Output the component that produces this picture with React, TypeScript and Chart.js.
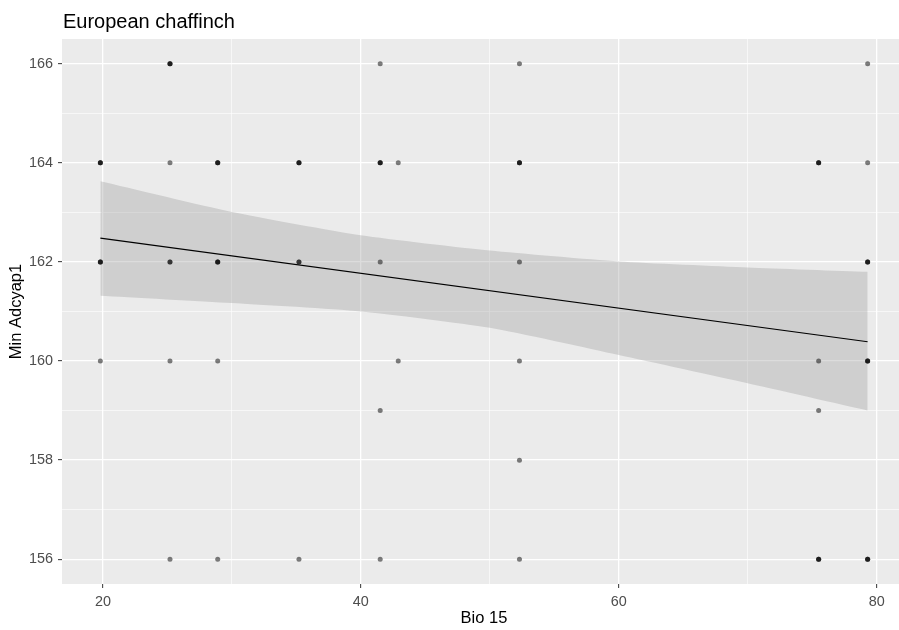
import React, { useEffect, useRef } from "react";
import { Chart, registerables } from "chart.js";

Chart.register(...registerables);

// ---- data ----
const chartTitle = "European chaffinch";
const xTitle = "Bio 15";
const yTitle = "Min Adcyap1";

// observations (repeated entries = overlapping points, which render darker)
const pointX = [
  19.8, 19.8, 19.8, 19.8, 19.8, 19.8, 19.8,
  25.2, 25.2, 25.2, 25.2, 25.2, 25.2, 25.2, 25.2,
  28.9, 28.9, 28.9, 28.9, 28.9, 28.9, 28.9, 28.9,
  35.2, 35.2, 35.2, 35.2, 35.2, 35.2,
  41.5, 41.5, 41.5, 41.5, 41.5, 41.5, 41.5,
  42.9, 42.9,
  52.3, 52.3, 52.3, 52.3, 52.3, 52.3, 52.3, 52.3,
  75.5, 75.5, 75.5, 75.5, 75.5, 75.5, 75.5, 75.5,
  79.3, 79.3, 79.3, 79.3, 79.3, 79.3, 79.3, 79.3, 79.3, 79.3, 79.3,
];
const pointY = [
  164, 164, 164, 162, 162, 162, 160,
  166, 166, 166, 164, 162, 162, 160, 156,
  164, 164, 164, 162, 162, 162, 160, 156,
  164, 164, 164, 162, 162, 156,
  166, 164, 164, 164, 162, 159, 156,
  164, 160,
  166, 164, 164, 164, 162, 160, 158, 156,
  164, 164, 164, 160, 159, 156, 156, 156,
  166, 164, 162, 162, 162, 160, 160, 160, 156, 156, 156,
];

// linear fit and its confidence band
const fitX = [19.8, 79.3];
const fitY = [162.48, 160.39];
const bandX = [19.8, 30, 40, 50, 60, 70, 79.3];
const bandUpper = [163.63, 163.01, 162.54, 162.23, 162.01, 161.89, 161.8];
const bandLower = [161.32, 161.17, 161.0, 160.67, 160.12, 159.55, 159.0];

// axes
const xMin = 16.825;
const xMax = 82.275;
const yMin = 155.5;
const yMax = 166.5;
const xTicks = [20, 30, 40, 50, 60, 70, 80];
const xMajor = [20, 40, 60, 80];
const yTicks = [156, 157, 158, 159, 160, 161, 162, 163, 164, 165, 166];
const yMajor = [156, 158, 160, 162, 164, 166];

const FONT = '"Liberation Sans", Arial, sans-serif';

export default function App() {
  const ref = useRef<HTMLCanvasElement | null>(null);

  useEffect(() => {
    if (!ref.current) return;

    const bgPlugin = {
      id: "panelBg",
      beforeDraw(chart: any) {
        const { ctx, chartArea } = chart;
        ctx.save();
        ctx.fillStyle = "#FFFFFF";
        ctx.fillRect(0, 0, chart.width, chart.height);
        ctx.fillStyle = "#EBEBEB";
        ctx.fillRect(chartArea.left, chartArea.top, chartArea.right - chartArea.left, chartArea.bottom - chartArea.top);
        ctx.restore();
      },
      afterDraw(chart: any) {
        const { ctx } = chart;
        ctx.save();
        ctx.fillStyle = "#000000";
        ctx.font = `20px ${FONT}`;
        ctx.textBaseline = "alphabetic";
        ctx.textAlign = "left";
        ctx.fillText(chartTitle, 63, 28);
        ctx.restore();
      },
    };

    const isMajorX = (v: number) => xMajor.includes(v);
    const isMajorY = (v: number) => yMajor.includes(v);

    const chart = new Chart(ref.current, {
      type: "scatter",
      data: {
        datasets: [
          {
            label: "points",
            data: pointX.map((x, i) => ({ x, y: pointY[i] })),
            backgroundColor: "rgba(0,0,0,0.5)",
            borderWidth: 0,
            pointRadius: 2.5,
            order: 0,
          },
          {
            label: "fit",
            data: fitX.map((x, i) => ({ x, y: fitY[i] })),
            showLine: true,
            borderColor: "#000000",
            borderWidth: 1.2,
            pointRadius: 0,
            fill: false,
            order: 1,
          },
          {
            label: "upper",
            data: bandX.map((x, i) => ({ x, y: bandUpper[i] })),
            showLine: true,
            borderWidth: 0,
            borderColor: "rgba(0,0,0,0)",
            backgroundColor: "rgba(153,153,153,0.34)",
            pointRadius: 0,
            fill: "+1",
            tension: 0.2,
            order: 2,
          },
          {
            label: "lower",
            data: bandX.map((x, i) => ({ x, y: bandLower[i] })),
            showLine: true,
            borderWidth: 0,
            borderColor: "rgba(0,0,0,0)",
            pointRadius: 0,
            fill: false,
            tension: 0.2,
            order: 3,
          },
        ],
      },
      options: {
        responsive: false,
        animation: false,
        devicePixelRatio: 1,
        layout: { padding: { top: 39, left: 0, right: 1, bottom: 0 } },
        plugins: {
          legend: { display: false },
          tooltip: { enabled: false },
          title: { display: false },
          filler: { propagate: false },
        },
        scales: {
          x: {
            type: "linear",
            min: xMin,
            max: xMax,
            afterBuildTicks: (scale: any) => {
              scale.ticks = xTicks.map((v) => ({ value: v }));
            },
            afterFit: (scale: any) => {
              scale.height = 46;
            },
            border: { display: false },
            grid: {
              color: "#FFFFFF",
              lineWidth: (c: any) => (isMajorX(c.tick?.value) ? 1.3 : 0.6),
              tickColor: (c: any) => (isMajorX(c.tick?.value) ? "#333333" : "rgba(0,0,0,0)"),
              tickWidth: 1,
              tickLength: 4,
            },
            ticks: {
              autoSkip: false,
              maxRotation: 0,
              padding: 5,
              color: "#4D4D4D",
              font: { family: FONT, size: 14.4 },
              callback: (v: any) => (isMajorX(Number(v)) ? String(v) : ""),
            },
            title: {
              display: true,
              text: xTitle,
              color: "#000000",
              font: { family: FONT, size: 16.5 },
              padding: { top: 0, bottom: 2 },
            },
          },
          y: {
            type: "linear",
            min: yMin,
            max: yMax,
            afterBuildTicks: (scale: any) => {
              scale.ticks = yTicks.map((v) => ({ value: v }));
            },
            afterFit: (scale: any) => {
              scale.width = 62;
            },
            border: { display: false },
            grid: {
              color: "#FFFFFF",
              lineWidth: (c: any) => (isMajorY(c.tick?.value) ? 1.3 : 0.6),
              tickColor: (c: any) => (isMajorY(c.tick?.value) ? "#333333" : "rgba(0,0,0,0)"),
              tickWidth: 1,
              tickLength: 4,
            },
            ticks: {
              autoSkip: false,
              padding: 5,
              color: "#4D4D4D",
              font: { family: FONT, size: 14.4 },
              callback: (v: any) => (isMajorY(Number(v)) ? String(v) : ""),
            },
            title: {
              display: true,
              text: yTitle,
              color: "#000000",
              font: { family: FONT, size: 16.5 },
              padding: { top: 7, bottom: 0 },
            },
          },
        },
      },
      plugins: [bgPlugin],
    } as any);

    return () => chart.destroy();
  }, []);

  return (
    <div
      style={{
        position: "fixed",
        left: 0,
        top: 0,
        width: 899,
        height: 630,
        overflow: "hidden",
        background: "#FFFFFF",
      }}
    >
      <canvas ref={ref} width={910} height={630} style={{ display: "block" }} />
    </div>
  );
}
